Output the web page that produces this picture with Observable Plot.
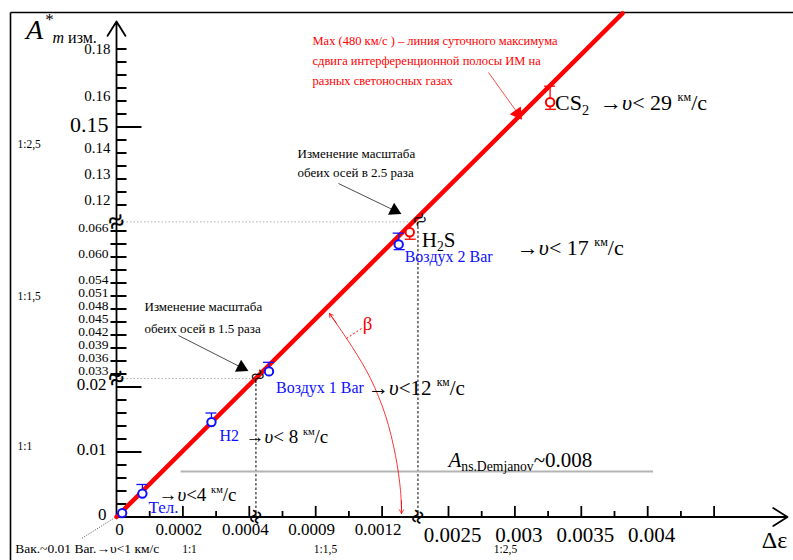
<!DOCTYPE html>
<html><head><meta charset="utf-8">
<script src="https://cdn.jsdelivr.net/npm/d3@7"></script>
<script src="https://cdn.jsdelivr.net/npm/@observablehq/plot@0.6"></script>
<style>body{margin:0;background:#fff}#chart svg{display:block;background:#fff}</style>
</head><body><div id="chart"></div>
<script>
// ---------------- DATA ----------------
const gases = ["Вак.", "Тел.", "H2", "Воздух 1 Bar", "Воздух 2 Bar", "H2S", "CS2"];
const deltaEps = [0.000017, 0.000078, 0.000286, 0.000689, 0.001275, 0.001325, 0.003265];
const aMeasured = [0.0006, 0.0036, 0.0146, 0.0336, 0.0629, 0.0657, 0.1595];
const errUp = [0, 0.0014, 0.0014, 0.0021, 0.0026, 0, 0.0062];
const errDown = [0, 0, 0, 0, 0.0012, 0.0016, 0.0027];
const speedLimit = [1, 4, 8, 12, 17, 17, 29]; // км/с

const maxLineEps = [0, 0.00381];
const maxLineA = [0, 0.1937];
const demjanovA = 0.007;
const demjanovEps = [0.000193, 0.00404];

// broken axes: segment start value, start on the drawn axis, compression
const xSegStart = [0, 0.0006, 0.00225];
const xSegDisplay = [0, 0.0004, 0.0009];
const ySegStart = [0, 0.03, 0.1125];
const ySegDisplay = [0, 0.02, 0.045];
const segRatio = [1, 1.5, 2.5];
const segRatioLabels = ["1:1", "1:1,5", "1:2,5"];
const xBreaks = [0.00042, 0.001362];
const yBreaks = [0.0213, 0.0681];

const yTicks1 = [0.002, 0.004, 0.006, 0.008, 0.012, 0.014, 0.016, 0.018];
const yTicksLong = [0.01, 0.02, 0.15];
const yTicks2 = [0.033, 0.036, 0.039, 0.042, 0.045, 0.048, 0.051, 0.054, 0.057, 0.060, 0.063, 0.066];
const yTicks3 = [0.12, 0.125, 0.13, 0.135, 0.14, 0.145, 0.155, 0.16, 0.165, 0.17, 0.175, 0.18];
const yLabels1 = ["0", "0.01", "0.02"];
const yLabels2 = ["0.033", "0.036", "0.039", "0.042", "0.045", "0.048", "0.051", "0.054", "0.060", "0.066"];
const yLabels3 = ["0.12", "0.13", "0.14", "0.16"];
const yLabelsTop = ["0.18"];
const yLabelsBig = ["0.15"];
const xTicksMinor = [0.0001, 0.0003, 0.00075, 0.00105, 0.00275, 0.00325, 0.00375, 0.00425];
const xTicksMajor = [0.0002, 0.0004, 0.0009, 0.0012, 0.0025, 0.003, 0.0035, 0.004, 0.0045];
const xLabels12 = ["0.0002", "0.0004", "0.0009", "0.0012"];
const xLabels3 = ["0.0025", "0.003", "0.0035", "0.004"];

const maxNote = ["Max (480 км/с ) – линия суточного максимума", "сдвига интерференционной полосы ИМ на", "разных светоносных газах"];
const note15 = ["Изменение масштаба", "обеих осей в 1.5 раза"];
const note25 = ["Изменение масштаба", "обеих осей в 2.5 раза"];

// ---------------- HELPERS ----------------
const SERIF = "'Liberation Serif', 'Times New Roman', serif";
const BLUE = "#1010ff", RED = "#ff0000";
const X0 = 116, Y0 = 516.5, PX = 332000, PY = 6500;
const ix = p => (p - X0) / PX, iy = p => (Y0 - p) / PY;   // annotation placement
const hx = n => n / PX, vy = n => n / PY;                 // pixel lengths
function seg(v, starts, disp) {
  let i = starts.length - 1;
  while (i > 0 && v < starts[i]) i--;
  return disp[i] + (v - starts[i]) / segRatio[i];
}
const X = v => seg(v, xSegStart, xSegDisplay);
const Y = v => seg(v, ySegStart, ySegDisplay);
const idx = gases.map((_, i) => i);
const txt = (data, o) => Plot.text(data, {fontFamily: SERIF, lineAnchor: "middle", ...o});
const lnk = (data, o) => Plot.link(data, {x1: "x1", y1: "y1", x2: "x2", y2: "y2", ...o});
const k = v => () => v;

const marks = [];
// frame
marks.push(lnk([{x1: ix(10), y1: iy(12), x2: ix(793), y2: iy(12)}, {x1: ix(10), y1: iy(12), x2: ix(10), y2: iy(560)}], {stroke: "#000", strokeWidth: 1.6}));

// guides at the breaks
marks.push(Plot.link([0, 1], {x1: k(hx(3)), x2: i => X(xBreaks[i]), y1: i => Y(yBreaks[i]), y2: i => Y(yBreaks[i]), stroke: "#b0b0b0", strokeDasharray: "1.5,2", strokeWidth: 1}));
marks.push(Plot.link([0, 1], {x1: i => X(xBreaks[i]), x2: i => X(xBreaks[i]), y1: k(0), y2: i => Y(yBreaks[i]), stroke: "#000", strokeDasharray: "2.5,2", strokeWidth: 1}));

// Demjanov level
marks.push(Plot.link([demjanovA], {x1: k(X(demjanovEps[0])), x2: k(X(demjanovEps[1])), y1: d => Y(d), y2: d => Y(d), stroke: "#b4b4b4", strokeWidth: 2}));
marks.push(txt([demjanovA], {x: k(X(0.0025)), y: d => Y(d), dy: -11, text: () => "*{A}_{ns.Demjanov}~0.008", textAnchor: "start", fontSize: 21}));

// axes
marks.push(Plot.arrow([{x1: 0, y1: 0, x2: ix(787), y2: 0}, {x1: 0, y1: 0, x2: 0, y2: iy(21)}], {x1: "x1", y1: "y1", x2: "x2", y2: "y2", stroke: "#000", strokeWidth: 1.8, headLength: 14, headAngle: 64}));

// y ticks
marks.push(Plot.link(yTicks1.concat(yTicks3), {x1: k(0), x2: k(hx(10)), y1: d => Y(d), y2: d => Y(d), stroke: "#000", strokeWidth: 2}));
marks.push(Plot.link(yTicks2, {x1: k(hx(-6)), x2: k(hx(10)), y1: d => Y(d), y2: d => Y(d), stroke: "#000", strokeWidth: 2}));
marks.push(Plot.link(yTicksLong, {x1: k(0), x2: k(hx(25)), y1: d => Y(d), y2: d => Y(d), stroke: "#000", strokeWidth: 2}));
marks.push(txt(yLabels1, {x: k(0), y: d => Y(+d), text: d => d, dx: -10, dy: -2, textAnchor: "end", fontSize: 17}));
marks.push(txt(yLabels2, {x: k(0), y: d => Y(+d), text: d => d, dx: -8, dy: -3, textAnchor: "end", fontSize: 13.5}));
marks.push(txt(yLabels3, {x: k(0), y: d => Y(+d), text: d => d, dx: -6, dy: -5, textAnchor: "end", fontSize: 15}));
marks.push(txt(yLabelsTop, {x: k(0), y: d => Y(+d), text: d => d, dx: -6, dy: 0, textAnchor: "end", fontSize: 15}));
marks.push(txt(yLabelsBig, {x: k(0), y: d => Y(+d), text: d => d, dx: -8, dy: -2, textAnchor: "end", fontSize: 22}));

// x ticks
marks.push(Plot.link(xTicksMinor, {x1: d => X(d), x2: d => X(d), y1: k(0), y2: k(vy(6)), stroke: "#000", strokeWidth: 1.8}));
marks.push(Plot.link(xTicksMajor, {x1: d => X(d), x2: d => X(d), y1: k(0), y2: k(vy(11)), stroke: "#000", strokeWidth: 1.8}));
marks.push(txt(["0"], {x: k(0), y: k(0), text: d => d, dx: 3, dy: 13, fontSize: 17}));
marks.push(txt(xLabels12, {x: d => X(+d), y: k(0), text: d => d, dx: -4, dy: 13, fontSize: 17}));
marks.push(txt(xLabels3, {x: d => X(+d), y: k(0), text: d => d, dx: 4, dy: 18, fontSize: 21}));

// scale ratio labels
marks.push(txt(segRatioLabels, {x: k(ix(17)), y: (d, i) => iy([446, 296, 144][i]), text: d => d, textAnchor: "start", fontSize: 11.5}));
marks.push(txt(segRatioLabels, {x: (d, i) => ix([189, 325, 505][i]), y: k(iy(549)), text: d => d, fontSize: 11.5}));

// break symbols
marks.push(txt([0, 1], {x: k(0), y: i => Y(yBreaks[i]), text: () => "≈", rotate: -20, fontSize: 28, fontWeight: "bold"}));
marks.push(txt([0, 1], {x: i => X(xBreaks[i]), y: k(0), text: () => "≈", rotate: -70, fontSize: 24, fontWeight: "bold"}));

// max line
marks.push(Plot.line([0, 1], {x: i => X(maxLineEps[i]), y: i => Y(maxLineA[i]), stroke: RED, strokeWidth: 4.5}));
marks.push(txt([0, 1], {x: i => X(xBreaks[i]), y: i => Y(yBreaks[i]), dx: 2, dy: -2, text: () => "≈", rotate: -35, fontSize: 24}));

// beta arc
const betaArc = [[329, 313], [352, 347], [370, 378], [385, 415], [395, 455], [400, 490], [401, 510]];
marks.push(Plot.line(betaArc, {x: d => ix(d[0]), y: d => iy(d[1]), curve: "catmull-rom", stroke: RED, strokeWidth: 0.8}));
marks.push(Plot.arrow([{x1: ix(336), y1: iy(323), x2: ix(329), y2: iy(313)}, {x1: ix(401), y1: iy(500), x2: ix(401), y2: iy(513)}], {x1: "x1", y1: "y1", x2: "x2", y2: "y2", stroke: RED, strokeWidth: 0.8, headLength: 8}));
marks.push(lnk([{x1: ix(346), y1: iy(338), x2: ix(361), y2: iy(328)}], {stroke: RED, strokeWidth: 1, strokeDasharray: "2,2"}));
marks.push(txt(["β"], {x: k(ix(367)), y: k(iy(323)), text: d => d, fill: RED, fontSize: 19}));

// notes
marks.push(txt(maxNote, {x: k(ix(312)), y: (d, i) => iy(40 + 20 * i), text: d => d, textAnchor: "start", fontSize: 12.5, fill: RED}));
marks.push(txt(note25, {x: k(ix(297)), y: (d, i) => iy(153 + 19 * i), text: d => d, textAnchor: "start", fontSize: 13}));
marks.push(txt(note15, {x: k(ix(144)), y: (d, i) => iy(306 + 22 * i), text: d => d, textAnchor: "start", fontSize: 13}));
marks.push(lnk([{x1: ix(488), y1: iy(72), x2: ix(516), y2: iy(111)}], {stroke: RED, strokeWidth: 0.7}));
marks.push(Plot.dot([0], {x: k(ix(517)), y: k(iy(113)), symbol: "triangle", r: 5, fill: RED, rotate: 145}));
const leaders = [{x1: ix(338), y1: iy(183), x2: ix(394), y2: iy(210)}, {x1: ix(178), y1: iy(335), x2: ix(241), y2: iy(367)}];
marks.push(lnk(leaders, {stroke: "#000", strokeWidth: 0.7}));
marks.push(Plot.dot(leaders, {x: "x2", y: "y2", symbol: "triangle", r: 5, fill: "#000", rotate: 117}));

// measured points
for (const [col, sel] of [[BLUE, i => i < 5], [RED, i => i >= 5]]) {
  const ids = idx.filter(sel);
  const e = ids.filter(i => errUp[i] > 0 || errDown[i] > 0);
  marks.push(Plot.link(e, {x1: i => X(deltaEps[i]), x2: i => X(deltaEps[i]), y1: i => Y(aMeasured[i] - errDown[i]), y2: i => Y(aMeasured[i] + errUp[i]), stroke: col, strokeWidth: 1.3}));
  marks.push(Plot.link(e.filter(i => errUp[i] > 0), {x1: i => X(deltaEps[i]) - hx(6), x2: i => X(deltaEps[i]) + hx(5), y1: i => Y(aMeasured[i] + errUp[i]), y2: i => Y(aMeasured[i] + errUp[i]), stroke: col, strokeWidth: 1.3}));
  marks.push(Plot.link(e.filter(i => errDown[i] > 0), {x1: i => X(deltaEps[i]) - hx(5), x2: i => X(deltaEps[i]) + hx(6), y1: i => Y(aMeasured[i] - errDown[i]), y2: i => Y(aMeasured[i] - errDown[i]), stroke: col, strokeWidth: 1.3}));
  marks.push(Plot.dot(ids, {x: i => X(deltaEps[i]), y: i => Y(aMeasured[i]), r: 4.2, stroke: col, fill: "white", strokeWidth: 2}));
}

// point labels
const labelOffset = {1: [6, 14, 17], 2: [8, 14, 16], 3: [7, 16, 16], 4: [6, 12, 16], 5: [12, 8, 21], 6: [5, 1, 22]};
const speedOffset = {1: [16, 1, 19], 2: [34, 15, 19], 3: [99, 17, 21], 5: [107, 16, 22], 6: [50, 1, 22]};
for (const i of idx) {
  const px = () => X(deltaEps[i]), py = () => Y(aMeasured[i]);
  if (labelOffset[i]) {
    const [dx, dy, fs] = labelOffset[i];
    const t = i >= 5 ? gases[i].replace("2", "_{2}") : gases[i];
    marks.push(txt([i], {x: px, y: py, dx, dy, text: () => t, textAnchor: "start", fontSize: fs, fill: i >= 5 ? "#000" : BLUE}));
  }
  if (speedOffset[i]) {
    const [dx, dy, fs] = speedOffset[i];
    const sp = (i === 1 || i === 3) ? "" : " ";
    marks.push(txt([i], {x: px, y: py, dx, dy, text: () => `→*{υ}<${sp}${speedLimit[i]} ^{км}/с`, textAnchor: "start", fontSize: fs}));
  }
}
// vacuum note
marks.push(txt([0], {x: () => X(deltaEps[0]), y: () => Y(aMeasured[0]), dx: -107, dy: 36, text: () => `${gases[0]}~0.01 Bar.→υ<${speedLimit[0]} км/с`, textAnchor: "start", fontSize: 13.5}));
marks.push(Plot.link([0], {x1: () => X(deltaEps[0]) - hx(40), y1: () => Y(aMeasured[0]) - vy(25), x2: () => X(deltaEps[0]) - hx(8), y2: () => Y(aMeasured[0]) - vy(5), stroke: "#000", strokeWidth: 0.7, strokeDasharray: "1,1.5"}));

// axis titles
marks.push(txt(["A"], {x: k(ix(34)), y: k(iy(30)), text: d => d, fontSize: 28, fontStyle: "italic"}));
marks.push(txt(["*"], {x: k(ix(49)), y: k(iy(19)), text: d => d, fontSize: 17}));
marks.push(txt(["*{m} изм."], {x: k(ix(52)), y: k(iy(37)), text: d => d, textAnchor: "start", fontSize: 16}));
marks.push(txt(["Δε"], {x: k(ix(774)), y: k(iy(540)), text: d => d, fontSize: 24}));

const chart = Plot.plot({
  width: 793, height: 560,
  marginTop: 0, marginRight: 0, marginBottom: 0, marginLeft: 0,
  x: {type: "linear", domain: [ix(0), ix(793)], range: [0, 793], axis: null},
  y: {type: "linear", domain: [iy(560), iy(0)], range: [560, 0], axis: null},
  style: {background: "#fff"},
  marks
});
document.getElementById("chart").appendChild(chart);

// rich text: ^{sup} _{sub} *{italic}
const NS = "http://www.w3.org/2000/svg";
chart.querySelectorAll("text").forEach(t => {
  const s = t.textContent;
  if (!/[\^_*]\{/.test(s)) return;
  const fs = parseFloat(getComputedStyle(t).fontSize) || 16;
  t.textContent = "";
  let shift = 0;
  for (const m of s.matchAll(/\^\{([^}]*)\}|_\{([^}]*)\}|\*\{([^}]*)\}|([^\^_*]+)/g)) {
    const ts = document.createElementNS(NS, "tspan");
    let target = 0, size = fs, content;
    if (m[1] !== undefined) { target = -0.42 * fs; size = 0.55 * fs; content = m[1]; }
    else if (m[2] !== undefined) { target = 0.2 * fs; size = 0.65 * fs; content = m[2]; }
    else if (m[3] !== undefined) { content = m[3]; ts.setAttribute("font-style", "italic"); }
    else content = m[4];
    ts.textContent = content;
    ts.setAttribute("dy", target - shift);
    ts.setAttribute("font-size", size);
    shift = target;
    t.appendChild(ts);
  }
});
</script></body></html>
